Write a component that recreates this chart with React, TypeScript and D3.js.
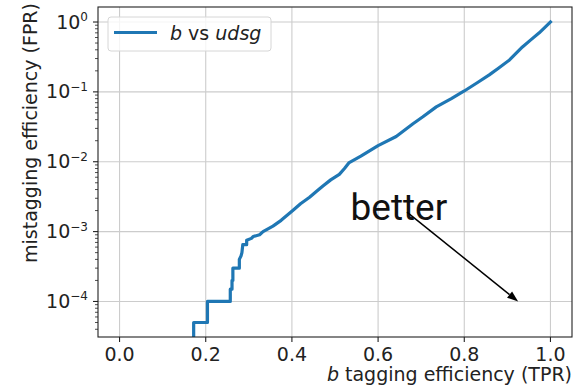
import { useRef, useEffect } from "react";
import * as d3 from "d3";

// ROC curve: b tagging efficiency (TPR) vs mistag rate (FPR)
const tpr = [
  0.172, 0.172, 0.204, 0.204, 0.257, 0.257, 0.261, 0.261, 0.263, 0.263, 0.278, 0.278,
  0.282, 0.284, 0.286, 0.295, 0.295, 0.306, 0.31, 0.325, 0.333, 0.356, 0.375, 0.402,
  0.42, 0.441, 0.458, 0.472, 0.49, 0.51, 0.522, 0.532, 0.56, 0.6, 0.642, 0.681, 0.704,
  0.735, 0.77, 0.8, 0.83, 0.858, 0.88, 0.905, 0.935, 0.955, 0.974, 1.0,
];
const fpr = [
  2e-5, 5e-5, 5e-5, 1e-4, 1e-4, 1.5e-4, 1.5e-4, 2e-4, 2e-4, 3e-4, 3e-4, 4e-4,
  4.5e-4, 5e-4, 6.5e-4, 6.5e-4, 7.5e-4, 8e-4, 8.5e-4, 9e-4, 1e-3, 1.2e-3, 1.45e-3, 2e-3,
  2.5e-3, 3.1e-3, 3.8e-3, 4.5e-3, 5.5e-3, 6.6e-3, 8e-3, 9.6e-3, 1.2e-2, 1.7e-2, 2.3e-2, 3.5e-2, 4.4e-2,
  6.1e-2, 8e-2, 0.103, 0.135, 0.175, 0.22, 0.286, 0.44, 0.56, 0.7, 1.0,
];
const xTicks = [0, 0.2, 0.4, 0.6, 0.8, 1.0];
const yTickExps = [-4, -3, -2, -1, 0];

const xLim: [number, number] = [-0.05, 1.05];
const yLim: [number, number] = [3.1e-5, 1.64];

// "better" annotation (data coords)
const noteText = "better";
const notePos = { x: 0.536, y: 1.45e-3 };
const arrowFrom = { x: 0.667, y: 1.9e-3 };
const arrowTo = { x: 0.925, y: 1e-4 };

const FONT = "DejaVu Sans";
const BLUE = "#1f77b4";

const App = () => {
  const ref = useRef<SVGSVGElement | null>(null);

  useEffect(() => {
    const svg = d3.select(ref.current);
    svg.selectAll("*").remove();

    const box = { left: 98, right: 572, top: 7, bottom: 337 };
    const x = d3.scaleLinear().domain(xLim).range([box.left, box.right]);
    const y = d3.scaleLog().domain(yLim).range([box.bottom, box.top]);

    svg
      .append("defs")
      .append("clipPath")
      .attr("id", "plotclip")
      .append("rect")
      .attr("x", box.left)
      .attr("y", box.top)
      .attr("width", box.right - box.left)
      .attr("height", box.bottom - box.top);

    // grid
    const grid = svg.append("g").attr("stroke", "#cccccc").attr("stroke-width", 1.1);
    xTicks.forEach((t) => {
      grid.append("line").attr("x1", x(t)).attr("x2", x(t)).attr("y1", box.top).attr("y2", box.bottom);
    });
    yTickExps.forEach((e) => {
      const v = Math.pow(10, e);
      grid.append("line").attr("x1", box.left).attr("x2", box.right).attr("y1", y(v)).attr("y2", y(v));
    });

    // curve
    const pts = tpr.map((t, i) => [t, fpr[i]] as [number, number]);
    const line = d3
      .line<[number, number]>()
      .x((d) => x(d[0]))
      .y((d) => y(d[1]));
    svg
      .append("path")
      .attr("clip-path", "url(#plotclip)")
      .attr("d", line(pts))
      .attr("fill", "none")
      .attr("stroke", BLUE)
      .attr("stroke-width", 3.2)
      .attr("stroke-linejoin", "round")
      .attr("stroke-linecap", "square");

    // spines
    svg
      .append("rect")
      .attr("x", box.left)
      .attr("y", box.top)
      .attr("width", box.right - box.left)
      .attr("height", box.bottom - box.top)
      .attr("fill", "none")
      .attr("stroke", "#222")
      .attr("stroke-width", 1.1);

    // x ticks
    const xt = svg.append("g");
    xTicks.forEach((t) => {
      xt.append("line")
        .attr("x1", x(t)).attr("x2", x(t))
        .attr("y1", box.bottom).attr("y2", box.bottom + 5)
        .attr("stroke", "#222").attr("stroke-width", 1.1);
      xt.append("text")
        .attr("x", x(t))
        .attr("y", 361)
        .attr("text-anchor", "middle")
        .attr("font-family", FONT)
        .attr("font-size", 19)
        .attr("fill", "#222")
        .text(d3.format(".1f")(t));
    });

    // y ticks (major + minor)
    const yt = svg.append("g");
    yTickExps.forEach((e) => {
      const v = Math.pow(10, e);
      yt.append("line")
        .attr("x1", box.left - 5).attr("x2", box.left)
        .attr("y1", y(v)).attr("y2", y(v))
        .attr("stroke", "#222").attr("stroke-width", 1.1);
      const txt = yt
        .append("text")
        .attr("x", 88)
        .attr("y", y(v) + 6.5)
        .attr("text-anchor", "end")
        .attr("font-family", FONT)
        .attr("font-size", 19)
        .attr("fill", "#222");
      txt.append("tspan").text("10");
      txt
        .append("tspan")
        .attr("dy", -7.5)
        .attr("font-size", 12)
        .text(e < 0 ? `\u2212${-e}` : `${e}`);
    });
    for (let e = -5; e <= 0; e++) {
      for (let m = 2; m <= 9; m++) {
        const v = m * Math.pow(10, e);
        if (v < yLim[0] || v > yLim[1]) continue;
        yt.append("line")
          .attr("x1", box.left - 3).attr("x2", box.left)
          .attr("y1", y(v)).attr("y2", y(v))
          .attr("stroke", "#222").attr("stroke-width", 0.8);
      }
    }

    // axis labels
    const xl = svg
      .append("text")
      .attr("x", box.right)
      .attr("y", 381)
      .attr("text-anchor", "end")
      .attr("font-family", FONT)
      .attr("font-size", 19)
      .attr("fill", "#222");
    xl.append("tspan").attr("font-style", "italic").text("b");
    xl.append("tspan").text(" tagging efficiency (TPR)");

    svg
      .append("text")
      .attr("transform", "translate(37,263) rotate(-90)")
      .attr("text-anchor", "start")
      .attr("font-family", FONT)
      .attr("font-size", 19)
      .attr("fill", "#222")
      .text("mistagging efficiency (FPR)");

    // legend
    const lg = svg.append("g");
    lg.append("rect")
      .attr("x", 108).attr("y", 17)
      .attr("width", 163).attr("height", 34)
      .attr("rx", 3)
      .attr("fill", "white").attr("fill-opacity", 0.8)
      .attr("stroke", "#d6d6d6").attr("stroke-width", 1);
    lg.append("line")
      .attr("x1", 114).attr("x2", 157)
      .attr("y1", 32.5).attr("y2", 32.5)
      .attr("stroke", BLUE).attr("stroke-width", 3.2);
    const lt = lg
      .append("text")
      .attr("x", 170)
      .attr("y", 39.5)
      .attr("font-family", FONT)
      .attr("font-size", 19)
      .attr("fill", "#222");
    lt.append("tspan").attr("font-style", "italic").text("b");
    lt.append("tspan").text(" vs ");
    lt.append("tspan").attr("font-style", "italic").text("udsg");

    // annotation
    svg
      .append("text")
      .attr("x", x(notePos.x))
      .attr("y", y(notePos.y))
      .attr("font-family", "Roboto")
      .attr("font-size", 37)
      .attr("fill", "#111")
      .text(noteText);

    const x0 = x(arrowFrom.x), y0 = y(arrowFrom.y);
    const x1 = x(arrowTo.x), y1 = y(arrowTo.y);
    const ang = Math.atan2(y1 - y0, x1 - x0);
    const headLen = 11, headW = 4;
    const bx = x1 - headLen * Math.cos(ang), by = y1 - headLen * Math.sin(ang);
    svg
      .append("line")
      .attr("x1", x0).attr("y1", y0)
      .attr("x2", bx).attr("y2", by)
      .attr("stroke", "#000").attr("stroke-width", 1.5);
    const px = -Math.sin(ang), py = Math.cos(ang);
    svg
      .append("path")
      .attr(
        "d",
        `M${x1},${y1}L${bx + headW * px},${by + headW * py}L${bx - headW * px},${by - headW * py}Z`
      )
      .attr("fill", "#000");
  }, []);

  return (
    <svg
      ref={ref}
      width={574}
      height={388}
      style={{ position: "absolute", left: 0, top: 0, background: "white" }}
    />
  );
};

export default App;
